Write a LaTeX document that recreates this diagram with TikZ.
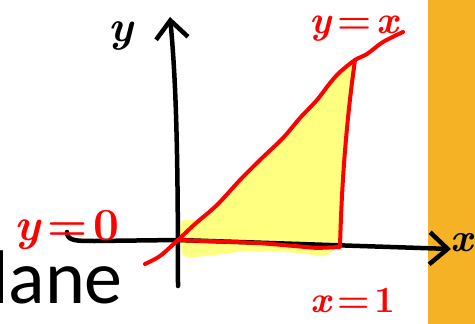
\documentclass[tikz,border=0pt]{standalone}
\usepackage{fontspec}
\newfontfamily\slidefont{Carlito}
\usepackage{xcolor}
\usepackage{tikz}
\usetikzlibrary{arrows.meta, positioning}

\definecolor{penred}{RGB}{255,0,0}
\definecolor{hilite}{RGB}{255,255,128}
\definecolor{slidebar}{RGB}{245,178,36}

\begin{document}
\begin{tikzpicture}[x=1pt, y=-1pt,
  axis/.style={line width=4.5pt, line cap=round, line join=round,
    -{Straight Barb[length=18pt, width=32pt, line width=4.5pt]}},
  pen/.style={penred, line width=4pt, line cap=round, line join=round},
  hand/.style={inner sep=0pt, anchor=base}]
  \useasboundingbox (0,0) rectangle (475,324);
  % Slide background
  \fill[slidebar] (428,0) rectangle (475,324);
  \node[font=\slidefont\fontsize{76}{76}\selectfont, anchor=base west, inner sep=0pt] (title) at (-9,303) {lane};
  % Region under y=x
  \fill[hilite] plot[smooth cycle, tension=0.4] coordinates {(181,222) (200,219) (217,207) (240,182) (262,160) (300,120) (330,84) (353,66) (346,120) (342,170) (341,240) (323,256) (300,253) (250,251) (205,256) (183,255)};
  % Axes
  \coordinate (O) at (178,240);
  \coordinate (xtail) at (67,232);
  \coordinate (xtip) at (451,249);
  \coordinate (ybot) at (178,286);
  \coordinate (ytip) at (170,17);
  \draw[axis] (xtail) .. controls (67,241) and (76,241) .. (95,241) -- (O) -- (xtip);
  \draw[axis] (ybot) .. controls (178,150) and (176,80) .. (ytip);
  \node[font=\fontsize{44}{44}\selectfont\bfseries\itshape, inner sep=0pt] (ylab) at (121,36) {y};
  \node[font=\fontsize{40}{40}\selectfont\bfseries\itshape, inner sep=0pt] (xlab) at (462,243) {x};
  % Line y=x and bound x=1
  \coordinate (lstart) at (145,264);
  \coordinate (top) at (355,60);
  \coordinate (corner) at (340,247);
  \coordinate (lend) at (403,32);
  \draw[pen] plot[smooth, tension=0.5] coordinates {(lstart) (160,256) (O) (195,224) (217,205) (240,180) (260,160) (283,138) (300,118) (317,100) (330,83) (340,72) (top) (367,54) (383,42) (lend)};
  \draw[pen] (top) .. controls (348,110) and (342,170) .. (corner) -- (317,248) -- (260,243) -- (O);
  % Labels
  \foreach \n/\xy/\s/\a/\b in {ylow/{(67,240)}/46/y/0, ydiag/{(355,34)}/39/y/\textit{x}, xone/{(353,312)}/37/x/1} {
    \node[hand, penred, font=\fontsize{\s}{\s}\selectfont\bfseries] (\n) at \xy {\textit{\a}\kern.12em=\kern.12em\b};
  }
\end{tikzpicture}
\end{document}
